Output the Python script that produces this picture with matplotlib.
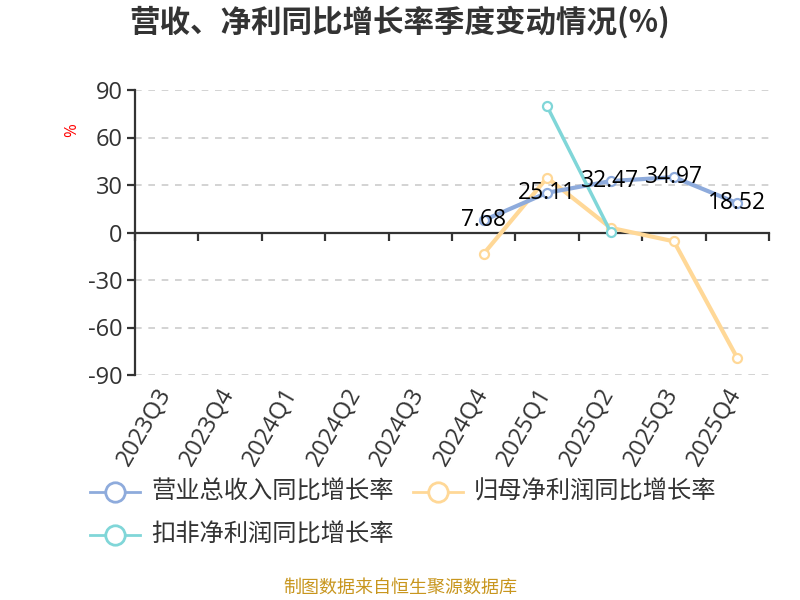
import numpy as np
import matplotlib
matplotlib.use("Agg")
import matplotlib.pyplot as plt
from matplotlib.lines import Line2D

plt.rcParams['font.family'] = ['Open Sans', 'Noto Sans CJK SC', 'DejaVu Sans']

categories = ["2023Q3", "2023Q4", "2024Q1", "2024Q2", "2024Q3",
              "2024Q4", "2025Q1", "2025Q2", "2025Q3", "2025Q4"]
nan = np.nan
revenue_yoy = [nan, nan, nan, nan, nan, 7.68, 25.11, 32.47, 34.97, 18.52]
netprofit_yoy = [nan, nan, nan, nan, nan, -13.4, 34.6, 3.0, -5.6, -79.3]
deducted_yoy = [nan, nan, nan, nan, nan, nan, 79.7, 0.5, nan, nan]
yticks = [-90, -60, -30, 0, 30, 60, 90]
series_names = ["营业总收入同比增长率", "归母净利润同比增长率", "扣非净利润同比增长率"]

c_blue = "#8EABDC"
c_yellow = "#FFD897"
c_teal = "#80D6D8"
dark = "#333333"
cjk = ['Noto Sans CJK SC', 'DejaVu Sans']

fig = plt.figure(figsize=(8, 6), dpi=100)
ax = fig.add_axes([135/800, 1-375/600, (769-135)/800, (375-90)/600])

x = np.arange(len(categories))
ax.set_xlim(-0.5, len(categories)-0.5)
ax.set_ylim(-90, 90)

# grid
for yv in yticks:
    if yv != 0:
        ax.axhline(yv, color="#CCCCCC", lw=1.2, ls=(0, (4, 4)), zorder=1)

mk = dict(marker='o', markersize=6.5, markerfacecolor='white', markeredgewidth=1.6)
ax.plot(x, netprofit_yoy, color=c_yellow, lw=3, zorder=3, markeredgecolor=c_yellow, **mk)
ax.plot(x, revenue_yoy, color=c_blue, lw=3, zorder=4, markeredgecolor=c_blue, **mk)
ax.plot(x, deducted_yoy, color=c_teal, lw=2.5, zorder=5, markeredgecolor=c_teal, **mk)

for xi, v in zip(x, revenue_yoy):
    if not np.isnan(v):
        ax.annotate(f"{v:.2f}", (xi, v), xytext=(0, 0), textcoords='offset points',
                    ha='center', va='center', fontsize=16.5, color='black', zorder=6)

# spines / ticks
for s in ['top', 'right']:
    ax.spines[s].set_visible(False)
ax.spines['left'].set_color(dark)
ax.spines['left'].set_linewidth(1.6)
ax.spines['bottom'].set_position(('data', 0))
ax.spines['bottom'].set_color(dark)
ax.spines['bottom'].set_linewidth(1.6)
ax.set_yticks(yticks)
ax.set_yticklabels([str(v) for v in yticks])
ax.tick_params(axis='y', length=6, width=1.6, color=dark, labelsize=17, labelcolor=dark, pad=3)
ax.set_xticks(np.arange(-0.5, len(categories), 1.0))
ax.set_xticklabels([])
ax.tick_params(axis='x', length=6, width=1.6, color=dark, direction='out')

for xi, lab in zip(x, categories):
    ax.text(xi - 0.18, -0.03, lab, transform=ax.get_xaxis_transform(),
            rotation=60, rotation_mode='anchor', ha='right', va='top',
            fontsize=17, color=dark)

fig.text(72/800, 1-130/600, "%", rotation=90, color='red', fontsize=12,
         ha='center', va='center')

fig.text(400/800, 1-22/600, "营收、净利同比增长率季度变动情况(%)", ha='center', va='center',
         fontsize=22, fontweight='bold', color=dark, family=cjk)

# legend
legend_items = [
    (series_names[0], c_blue, 90, 151, 492),
    (series_names[1], c_yellow, 413, 474, 492),
    (series_names[2], c_teal, 90, 151, 535),
]
for name, col, hx, tx, yy in legend_items:
    fy = 1 - yy/600
    fig.add_artist(Line2D([hx/800, (hx+50)/800], [fy, fy], color=col, lw=2,
                          transform=fig.transFigure))
    fig.add_artist(Line2D([(hx+25)/800], [fy], marker='o', markersize=14,
                          markerfacecolor='white', markeredgecolor=col,
                          markeredgewidth=2, transform=fig.transFigure))
    fig.text(tx/800, fy, name, ha='left', va='center', fontsize=17.5, color=dark,
             family=cjk)

fig.text(400/800, 1-588/600, "制图数据来自恒生聚源数据库", ha='center', va='center',
         fontsize=13, color="#C8961E", family=cjk)

fig.savefig("out.png", dpi=100)
